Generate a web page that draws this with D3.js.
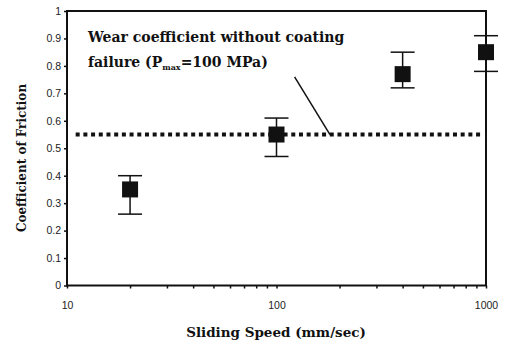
<!DOCTYPE html>
<html>
<head>
<meta charset="utf-8">
<script src="https://cdn.jsdelivr.net/npm/d3@7"></script>
<style>
  body { margin: 0; background: #fff; }
  .tickText { font-family: "Liberation Sans", Arial, sans-serif; font-size: 10.5px; fill: #222; }
  .titleText { font-family: "DejaVu Serif", "Liberation Serif", serif; font-weight: bold; fill: #111; }
</style>
</head>
<body>
<svg id="chart" width="505" height="345"></svg>
<script>
// data
var speeds = [20, 100, 400, 1000];
var friction = [0.35, 0.55, 0.77, 0.85];
var errLow = [0.26, 0.47, 0.72, 0.78];
var errHigh = [0.40, 0.61, 0.85, 0.91];
var referenceLevel = 0.55;
var yTicks = [0, 0.1, 0.2, 0.3, 0.4, 0.5, 0.6, 0.7, 0.8, 0.9, 1];
var xMajor = [10, 100, 1000];
var xMinor = [20, 30, 40, 50, 60, 70, 80, 90, 200, 300, 400, 500, 600, 700, 800, 900];
var lineStart = 11, lineEnd = 950;   // x-range of the dotted reference line
var arrowFrom = [122, 0.76], arrowTo = [180, 0.55];

var svg = d3.select("#chart");

var plotLeft = 67, plotRight = 486, plotTop = 11, plotBottom = 285.5;

var x = d3.scaleLog().domain([10, 1000]).range([plotLeft, plotRight]);
var y = d3.scaleLinear().domain([0, 1]).range([plotBottom, plotTop]);

// plot frame
svg.append("rect")
    .attr("x", plotLeft).attr("y", plotTop)
    .attr("width", plotRight - plotLeft).attr("height", plotBottom - plotTop)
    .attr("fill", "none").attr("stroke", "#111").attr("stroke-width", 2);

// y axis
var yAxis = svg.append("g")
    .attr("transform", "translate(" + plotLeft + ",0)")
    .call(d3.axisLeft(y).tickValues(yTicks).tickSize(3).tickPadding(3)
        .tickFormat(function(d){ return d === 0 || d === 1 ? d : d3.format(".1f")(d); }));
yAxis.select(".domain").remove();
yAxis.selectAll("line").attr("stroke", "#111").attr("stroke-width", 1.5);
yAxis.selectAll("text").attr("class", "tickText").attr("font-size", null).attr("font-family", null);

// x axis, minor ticks
var xAxis = svg.append("g")
    .attr("transform", "translate(0," + plotBottom + ")")
    .call(d3.axisBottom(x).tickValues(xMajor.concat(xMinor)).tickSize(3).tickPadding(13)
        .tickFormat(function(d){ return xMajor.indexOf(d) >= 0 ? d : ""; }));
xAxis.select(".domain").remove();
xAxis.selectAll("line").attr("stroke", "#111").attr("stroke-width", 1.5);
xAxis.selectAll("text").attr("class", "tickText").attr("font-size", null).attr("font-family", null);

// dotted reference line
svg.append("line")
    .attr("x1", x(lineStart)).attr("x2", x(lineEnd))
    .attr("y1", y(referenceLevel)).attr("y2", y(referenceLevel))
    .attr("stroke", "#111").attr("stroke-width", 4)
    .attr("stroke-dasharray", "4,3.7");

// pointer line
svg.append("line")
    .attr("x1", x(arrowFrom[0])).attr("y1", y(arrowFrom[1]))
    .attr("x2", x(arrowTo[0])).attr("y2", y(arrowTo[1]))
    .attr("stroke", "#111").attr("stroke-width", 1.5);

// error bars
var points = speeds.map(function(s, i){
    return { speed: s, value: friction[i], lo: errLow[i], hi: errHigh[i] };
});

var bars = svg.selectAll(".errBar")
    .data(points)
    .enter().append("g")
    .attr("class", "errBar");

bars.append("line")
    .attr("x1", function(d){ return x(d.speed); })
    .attr("x2", function(d){ return x(d.speed); })
    .attr("y1", function(d){ return y(d.lo); })
    .attr("y2", function(d){ return y(d.hi); })
    .attr("stroke", "#111").attr("stroke-width", 1.5);

bars.selectAll(".cap")
    .data(function(d){ return [{ speed: d.speed, v: d.lo }, { speed: d.speed, v: d.hi }]; })
    .enter().append("line")
    .attr("class", "cap")
    .attr("x1", function(d){ return x(d.speed) - 12; })
    .attr("x2", function(d){ return x(d.speed) + 12; })
    .attr("y1", function(d){ return y(d.v); })
    .attr("y2", function(d){ return y(d.v); })
    .attr("stroke", "#111").attr("stroke-width", 1.5);

// square markers
svg.selectAll(".marker")
    .data(points)
    .enter().append("rect")
    .attr("class", "marker")
    .attr("x", function(d){ return x(d.speed) - 8; })
    .attr("y", function(d){ return y(d.value) - 8; })
    .attr("width", 16).attr("height", 16)
    .attr("fill", "#111");

// annotation
var note = svg.append("text")
    .attr("class", "titleText")
    .attr("x", 88).attr("y", 42)
    .attr("font-size", 14);
note.append("tspan").text("Wear coefficient without coating");
var note2 = svg.append("text")
    .attr("class", "titleText")
    .attr("x", 88).attr("y", 67)
    .attr("font-size", 14);
note2.append("tspan").text("failure (P");
note2.append("tspan").attr("font-size", 8).attr("dy", 3).text("max");
note2.append("tspan").attr("dy", -3).text("=100 MPa)");

// axis titles
svg.append("text")
    .attr("class", "titleText")
    .attr("x", 276).attr("y", 337)
    .attr("text-anchor", "middle")
    .attr("font-size", 13.5)
    .text("Sliding Speed (mm/sec)");

svg.append("text")
    .attr("class", "titleText")
    .attr("transform", "translate(26,158) rotate(-90)")
    .attr("text-anchor", "middle")
    .attr("font-size", 12)
    .text("Coefficient of Friction");
</script>
</body>
</html>
